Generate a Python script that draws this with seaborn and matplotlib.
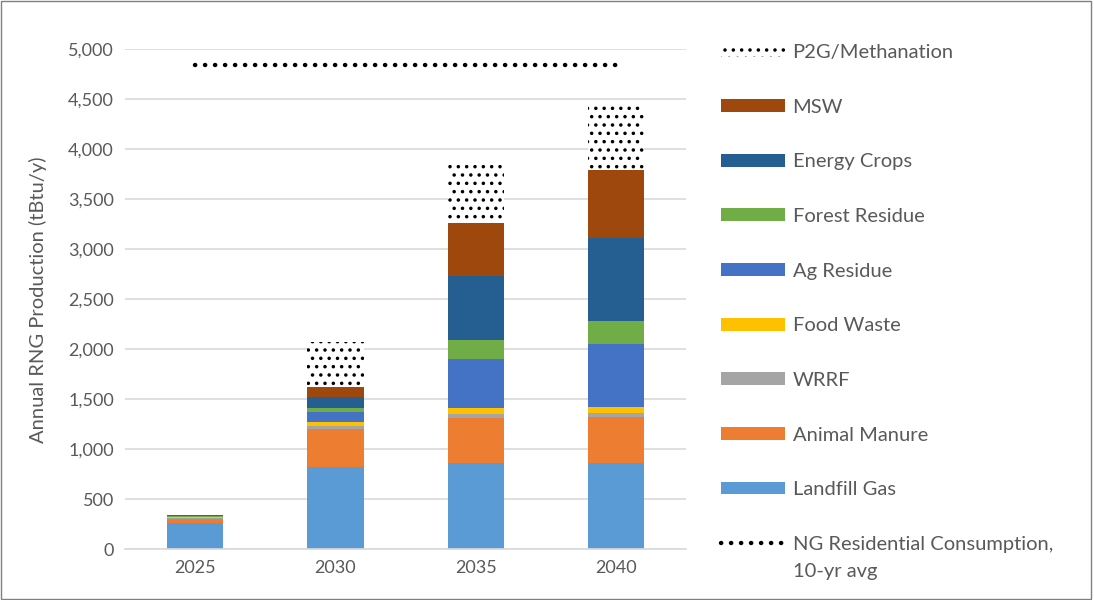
import numpy as np
import pandas as pd
import matplotlib
matplotlib.use("Agg")
import matplotlib.pyplot as plt
import matplotlib.patches as mpatches
import matplotlib.lines as mlines
import seaborn as sns

years = ["2025", "2030", "2035", "2040"]
landfill_gas = [265, 826, 860, 866]
animal_manure = [40, 374, 456, 454]
wrrf = [12, 33, 40, 40]
food_waste = [8, 43, 60, 63]
ag_residue = [3, 94, 490, 630]
forest_residue = [3, 40, 184, 230]
energy_crops = [2, 110, 643, 827]
msw = [10, 100, 533, 683]
p2g = [7, 456, 577, 683]
ng_residential = [4840, 4840, 4840, 4840]

series = [
    ("Landfill Gas", landfill_gas, "#5B9BD5"),
    ("Animal Manure", animal_manure, "#ED7D31"),
    ("WRRF", wrrf, "#A5A5A5"),
    ("Food Waste", food_waste, "#FFC000"),
    ("Ag Residue", ag_residue, "#4472C4"),
    ("Forest Residue", forest_residue, "#70AD47"),
    ("Energy Crops", energy_crops, "#255E91"),
    ("MSW", msw, "#9E480E"),
    ("P2G/Methanation", p2g, "white"),
]

sns.set_theme(style="white")
plt.rcParams["font.family"] = ["Lato", "DejaVu Sans"]
plt.rcParams["hatch.linewidth"] = 1.3
plt.rcParams["hatch.color"] = "black"

TXT = "#595959"
fig = plt.figure(figsize=(10.94, 6.0), dpi=100)
ax = fig.add_axes([0.1143, 0.0845, 0.513, 0.8333])

cum = np.zeros(len(years))
cums = []
for name, vals, col in series:
    cum = cum + np.array(vals, dtype=float)
    cums.append((name, cum.copy(), col))

# draw from top of stack down so lower segments overlay upper totals
for name, c, col in reversed(cums):
    df = pd.DataFrame({"year": years, "value": c})
    if name == "P2G/Methanation":
        sns.barplot(data=df, x="year", y="value", color=col, saturation=1,
                    width=0.4, ax=ax, linewidth=0, edgecolor="black",
                    hatch="..", zorder=2)
    else:
        sns.barplot(data=df, x="year", y="value", color=col, saturation=1,
                    width=0.4, ax=ax, linewidth=0, zorder=2)

ng_df = pd.DataFrame({"x": np.arange(len(years)), "y": ng_residential})
sns.lineplot(data=ng_df, x="x", y="y", ax=ax, color="black", linewidth=3.2,
             linestyle=(0, (0.05, 2.2)), dash_capstyle="round", zorder=3)
for l in ax.lines:
    l.set_dash_capstyle("round")

ax.set_xlim(-0.5, 3.5)
ax.set_ylim(0, 5000)
ax.set_yticks(np.arange(0, 5001, 500))
ax.set_yticklabels([f"{v:,}" for v in range(0, 5001, 500)])
ax.set_xticks(range(len(years)))
ax.set_xticklabels(years)
ax.yaxis.grid(True, color="#D9D9D9", linewidth=1.2, zorder=0)
ax.set_axisbelow(True)
for s in ["top", "right", "left"]:
    ax.spines[s].set_visible(False)
ax.spines["bottom"].set_color("#D9D9D9")
ax.spines["bottom"].set_linewidth(1.2)
ax.tick_params(axis="both", length=0, labelsize=13, labelcolor=TXT, pad=8)
ax.set_xlabel("")
ax.set_ylabel("Annual RNG Production (tBtu/y)", fontsize=14.5, color=TXT, labelpad=15)

handles = []
for name, vals, col in reversed(series):
    if name == "P2G/Methanation":
        handles.append(mpatches.Patch(facecolor="white", edgecolor="black",
                                      linewidth=0, hatch="..", label=name))
    else:
        handles.append(mpatches.Patch(facecolor=col, linewidth=0, label=name))
handles.append(mlines.Line2D([], [], color="black", linewidth=3.2,
                             linestyle=(0, (0.05, 2.2)), dash_capstyle="round",
                             label="NG Residential Consumption,"))
leg = fig.legend(handles=handles, loc="upper left", bbox_to_anchor=(0.6426, 0.957),
                 frameon=False, fontsize=14.5, labelcolor=TXT, handlelength=3.15,
                 handleheight=0.6, handletextpad=0.4, labelspacing=1.87)

fig.canvas.draw()
last = leg.get_texts()[-1]
bb = last.get_window_extent()
x0 = bb.x0 / fig.bbox.width
y0 = (bb.y0 - 27) / fig.bbox.height
fig.text(x0, y0, "10-yr avg", fontsize=14.5, color=TXT, ha="left", va="bottom")

fig.patches.append(mpatches.Rectangle((0.001, 0.001), 0.996, 0.997, transform=fig.transFigure,
                                      fill=False, edgecolor="#808080", linewidth=1))
fig.savefig("out.png", dpi=100)
